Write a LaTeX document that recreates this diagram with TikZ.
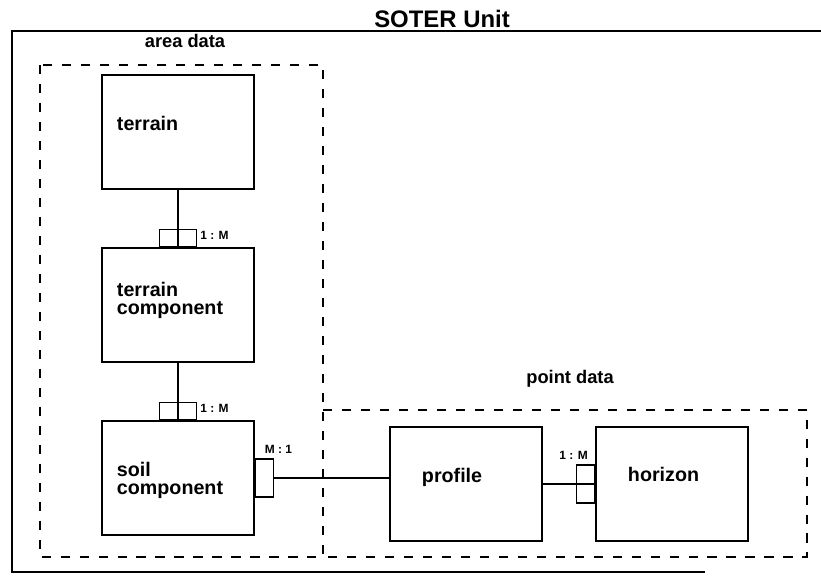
\documentclass[tikz,border=0pt]{standalone}
\usepackage{fontspec}
\setmainfont{Liberation Sans}
\usepackage{tikz}
\usetikzlibrary{positioning, calc}

\begin{document}
\begin{tikzpicture}[
  x=0.025cm, y=-0.025cm,
  every node/.style={font=\bfseries},
  entity/.style={draw, line width=1.2pt, minimum width=3.8cm, minimum height=2.85cm, inner xsep=0.375cm, text width=3.05cm, align=left, text depth=0.45cm, font=\fontsize{14}{13}\selectfont\bfseries},
  card/.style={draw, line width=1pt, minimum width=0.925cm, minimum height=0.425cm, inner sep=0pt},
  sidecard/.style={draw, line width=1pt, minimum width=0.45cm, minimum height=0.95cm, inner sep=0pt},
  cardlabel/.style={font=\fontsize{8.5}{9}\selectfont\bfseries, inner sep=2pt},
  grouplabel/.style={font=\fontsize{13}{14}\selectfont\bfseries, inner sep=0pt},
  group/.style={line width=1.1pt, dash pattern=on 6.5pt off 7pt},
  link/.style={line width=1pt}
]
  \useasboundingbox (0,0) rectangle (821,579);

  % Rahmen und Gruppen
  \node[font=\fontsize{17}{18}\selectfont\bfseries, anchor=base, inner sep=0pt] (unit) at (442,27) {SOTER Unit};
  \draw[line width=1.4pt] (821,31) -- (12,31) -- (12,572) -- (705,572);
  \draw[group] (40,65) rectangle (323,557);
  \draw[group] (323,410) -- (807,410) -- (807,557) -- (323,557);
  \node[grouplabel, anchor=base] (area) at (185,47) {area data};
  \node[grouplabel, anchor=base] (point) at (570,383) {point data};

  % Entitaeten
  \node[entity] (tr) at (178,132) {terrain};
  \node[entity, text depth=0.8cm] (tc) at (178,305) {terrain\\component};
  \node[entity, text depth=0.45cm] (sc) at (178,478) {soil\\component};
  \node[entity, inner xsep=0.8cm, text width=2.2cm, text depth=0.45cm] (pr) at (466,484) {profile};
  \node[entity, inner xsep=0.8cm, text width=2.2cm, text depth=0.5cm] (hz) at (672,484) {horizon};

  % Kardinalitaeten
  \node[card, anchor=south] (c1) at (tc.north) {};
  \node[card, anchor=south] (c2) at (sc.north) {};
  \node[sidecard, anchor=west] (c3) at (sc.east) {};
  \node[sidecard, anchor=east] (c4) at (hz.west) {};
  \node[cardlabel, anchor=west, yshift=1.5pt] (l1) at (c1.east) {1 : M};
  \node[cardlabel, anchor=west, yshift=1.5pt] (l2) at (c2.east) {1 : M};
  \node[cardlabel, anchor=south west, xshift=-2pt, yshift=1pt] (l3) at (c3.north) {M : 1};
  \node[cardlabel, anchor=south east, xshift=-3pt, yshift=1pt] (l4) at (c4.north east) {1 : M};

  \draw[link] (tr) -- (tc);
  \draw[link] (tc) -- (sc);
  \draw[link] (c3.east) -- (c3.east -| pr.west);
  \draw[link] (pr.east) -- (hz.west);

\end{tikzpicture}
\end{document}
